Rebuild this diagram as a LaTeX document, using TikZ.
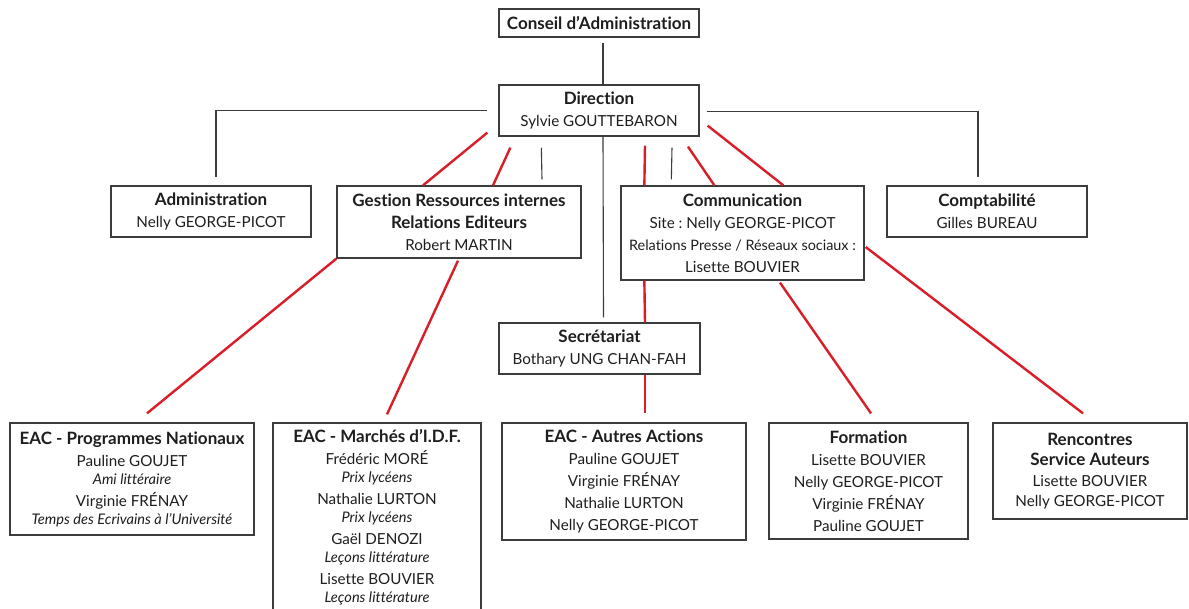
\documentclass[tikz,border=0pt]{standalone}
\usepackage{fontspec}
\setmainfont{Lato}[Ligatures=NoCommon]
\frenchspacing
\definecolor{lred}{HTML}{D81E28}
\definecolor{lgray}{HTML}{3C3C3C}
\definecolor{txt}{HTML}{1E1E1E}
\newcommand\subline[1]{{\fontsize{14.6}{18}\selectfont\itshape #1}}
\newcommand\ttl[1]{{\fontsize{17}{22}\selectfont\bfseries #1}}
\begin{document}
\begin{tikzpicture}[x=1pt,y=-1pt,
  box/.style={draw=lgray, line width=1.3pt, fill=white, align=center, text=txt,
    inner sep=1pt, font=\fontsize{15.2}{22}\selectfont\frenchspacing},
  blk/.style={draw=lgray, line width=1.1pt},
  redline/.style={draw=lred, line width=2.4pt}]
\clip (0,0) rectangle (1189,608);
\fill[white] (0,0) rectangle (1189,608);

% nodes
\node[box, minimum width=200, minimum height=28] (conseil) at (599,23) {\ttl{Conseil d’Administration}};
\node[box, minimum width=200, minimum height=51] (direction) at (599,110.5) {\ttl{Direction}\\ Sylvie GOUTTEBARON};
\node[box, minimum width=200, minimum height=51] (admin) at (211,211.5) {\ttl{Administration}\\ Nelly GEORGE-PICOT};
\node[box, minimum width=244, minimum height=72] (gestion) at (459,222) {\ttl{Gestion Ressources internes}\\ \ttl{Relations Editeurs}\\ Robert MARTIN};
\node[box, minimum width=243, minimum height=94] (comm) at (742.5,233) {\ttl{Communication}\\ Site : Nelly GEORGE-PICOT\\ {\fontsize{14.4}{22}\selectfont Relations Presse / Réseaux sociaux :}\\ Lisette BOUVIER};
\node[box, minimum width=200, minimum height=51] (compta) at (987,211.5) {\ttl{Comptabilité}\\ Gilles BUREAU};
\node[box, minimum width=201, minimum height=51] (secr) at (599.5,348.5) {\ttl{Secrétariat}\\ Bothary UNG CHAN-FAH};
\node[box, minimum width=244, minimum height=112] (eacprog) at (132,479) {\ttl{EAC - Programmes Nationaux}\\ Pauline GOUJET\\[-4pt] \subline{Ami littéraire}\\ Virginie FRÉNAY\\[-4pt] \subline{Temps des Ecrivains à l’Université}};
\node[box, minimum width=208, minimum height=200] (marches) at (377,523) {\ttl{EAC - Marchés d’I.D.F.}\\ Frédéric MORÉ\\[-4pt] \subline{Prix lycéens}\\ Nathalie LURTON\\[-4pt] \subline{Prix lycéens}\\ Gaël DENOZI\\[-4pt] \subline{Leçons littérature}\\ Lisette BOUVIER\\[-4pt] \subline{Leçons littérature}\\[-8pt] \mbox{}};
\node[box, minimum width=244, minimum height=117] (autres) at (624,481.5) {\ttl{EAC - Autres Actions}\\ Pauline GOUJET\\ Virginie FRÉNAY\\ Nathalie LURTON\\ Nelly GEORGE-PICOT};
\node[box, minimum width=199, minimum height=116] (formation) at (868.5,481) {\ttl{Formation}\\ Lisette BOUVIER\\ Nelly GEORGE-PICOT\\ Virginie FRÉNAY\\ Pauline GOUJET};
\node[box, minimum width=194, minimum height=96, font=\fontsize{15.2}{20.5}\selectfont\frenchspacing] (rencontres) at (1090,471) {\ttl{Rencontres}\\ \ttl{Service Auteurs}\\ Lisette BOUVIER\\ Nelly GEORGE-PICOT};

% black connectors
\draw[blk] ([xshift=4,yshift=-5]conseil.south) -- ([xshift=4]direction.north);
\draw[blk] ([xshift=-11]direction.west) -| ([xshift=5,yshift=8]admin.north);
\draw[blk] ([xshift=7,yshift=-1]direction.east) -| ([xshift=-9,yshift=8]compta.north);
\draw[blk] ([xshift=43,yshift=-11]direction.south west) -- ([xshift=83,yshift=6]gestion.north);
\draw[blk] ([xshift=4]direction.south) -- ([xshift=4,yshift=5]secr.north);
\draw[blk] ([xshift=73,yshift=-11]direction.south) -- ([xshift=51,yshift=6]comm.north west);

% red connectors
\draw[redline] ([xshift=-11,yshift=4]direction.south west) -- ([xshift=-36]gestion.north);
\draw[redline] ([xshift=12,yshift=-11]direction.south west) -- ([xshift=34]gestion.north);
\draw[redline] ([xshift=46,yshift=-9]direction.south) -- ([xshift=24]comm.north west);
\draw[redline] ([xshift=89,yshift=-10]direction.south) -- ([xshift=94]comm.north west);
\draw[redline] ([xshift=8,yshift=11]direction.south east) -- ([xshift=163]comm.north west);
\draw[redline] ([xshift=24]comm.south west) -- ([xshift=45.5]secr.north);
\draw[redline] ([xshift=45.5]secr.south) -- ([xshift=21,yshift=9]autres.north);
\draw[redline] (gestion.south west) -- ([xshift=15,yshift=9]eacprog.north);
\draw[redline] ([xshift=-1,yshift=-2]gestion.south) -- ([xshift=10,yshift=8]marches.north);
\draw[redline] ([xshift=37.5,yshift=-2]comm.south) -- ([xshift=2.5,yshift=9]formation.north);
\draw[redline] ([xshift=1,yshift=-14]comm.east) -- ([xshift=-7,yshift=9]rencontres.north);
\end{tikzpicture}
\end{document}
